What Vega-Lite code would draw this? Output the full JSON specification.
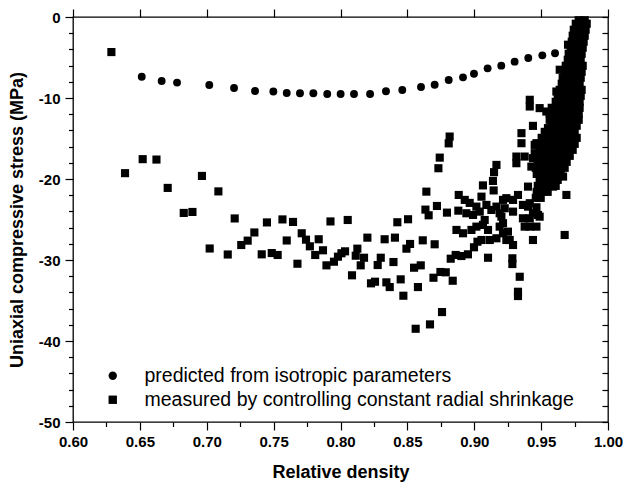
{
  "$schema": "https://vega.github.io/schema/vega-lite/v6.json",
  "width": 535,
  "height": 405,
  "autosize": {"type": "none"},
  "padding": {"left": 73, "top": 17, "right": 17, "bottom": 63},
  "background": "white",
  "config": {
    "view": {"stroke": "black", "strokeWidth": 1.3},
    "axis": {
      "domainColor": "black", "domainWidth": 1.3, "tickColor": "black", "tickWidth": 1.2,
      "labelFont": "Liberation Sans", "labelFontWeight": "bold", "labelFontSize": 15, "labelColor": "black",
      "titleFont": "Liberation Sans", "titleFontWeight": "bold", "titleFontSize": 18, "titleColor": "black",
      "grid": false, "labelOverlap": false, "labelFlush": false
    }
  },
  "datasets": {
    "pred": [
      {"x":0.6514,"y":-7.37},{"x":0.6663,"y":-7.90},{"x":0.6778,"y":-8.10},{"x":0.7019,"y":-8.40},{"x":0.7204,"y":-8.77},
      {"x":0.7361,"y":-9.14},{"x":0.7498,"y":-9.20},{"x":0.7598,"y":-9.38},{"x":0.7697,"y":-9.42},{"x":0.7797,"y":-9.42},
      {"x":0.7901,"y":-9.50},{"x":0.8001,"y":-9.50},{"x":0.8101,"y":-9.50},{"x":0.8221,"y":-9.50},{"x":0.8340,"y":-9.17},
      {"x":0.8462,"y":-9.01},{"x":0.8602,"y":-8.64},{"x":0.8704,"y":-8.36},{"x":0.8809,"y":-7.78},{"x":0.8916,"y":-7.45},
      {"x":0.8998,"y":-7.00},{"x":0.9100,"y":-6.34},{"x":0.9202,"y":-6.01},{"x":0.9302,"y":-5.51},{"x":0.9404,"y":-5.06},
      {"x":0.9509,"y":-4.73},{"x":0.9604,"y":-4.48},{"x":0.974,"y":-3.0},{"x":0.978,"y":-1.8},{"x":0.980,"y":-0.6}
    ],
    "meas": [
      {"x":0.6287,"y":-4.33},{"x":0.6389,"y":-19.28},{"x":0.6521,"y":-17.55},{"x":0.6624,"y":-17.60},{"x":0.6708,"y":-21.10},
      {"x":0.6828,"y":-24.19},{"x":0.6893,"y":-24.07},{"x":0.6964,"y":-19.62},{"x":0.7087,"y":-21.53},{"x":0.7022,"y":-28.58},
      {"x":0.7157,"y":-29.32},{"x":0.7209,"y":-24.87},{"x":0.7258,"y":-28.15},{"x":0.7306,"y":-27.61},{"x":0.7356,"y":-26.60},
      {"x":0.7411,"y":-29.30},{"x":0.7450,"y":-25.36},{"x":0.7486,"y":-29.14},{"x":0.7530,"y":-29.38},{"x":0.7566,"y":-24.99},
      {"x":0.7598,"y":-27.59},{"x":0.7645,"y":-25.30},{"x":0.7678,"y":-30.46},{"x":0.7710,"y":-26.70},{"x":0.7742,"y":-27.49},
      {"x":0.7771,"y":-28.31},{"x":0.7811,"y":-29.38},{"x":0.7837,"y":-27.44},{"x":0.7869,"y":-28.80},{"x":0.7925,"y":-25.24},
      {"x":0.8054,"y":-25.06},{"x":0.7895,"y":-30.66},{"x":0.7951,"y":-30.21},{"x":0.7981,"y":-29.59},{"x":0.8007,"y":-29.17},
      {"x":0.8034,"y":-28.93},{"x":0.8086,"y":-31.89},{"x":0.8126,"y":-28.60},{"x":0.8114,"y":-29.47},{"x":0.8151,"y":-30.66},
      {"x":0.8176,"y":-29.72},{"x":0.8201,"y":-27.24},{"x":0.8228,"y":-32.88},{"x":0.8258,"y":-32.68},{"x":0.8278,"y":-30.62},
      {"x":0.8301,"y":-29.72},{"x":0.8330,"y":-27.44},{"x":0.8343,"y":-32.76},{"x":0.8368,"y":-33.34},{"x":0.8396,"y":-30.25},
      {"x":0.8407,"y":-27.24},{"x":0.8425,"y":-25.34},{"x":0.8450,"y":-32.39},{"x":0.8470,"y":-34.41},{"x":0.8493,"y":-28.60},
      {"x":0.8505,"y":-24.97},{"x":0.8520,"y":-28.02},{"x":0.8550,"y":-30.95},{"x":0.8562,"y":-38.49},{"x":0.8579,"y":-33.34},
      {"x":0.8600,"y":-30.66},{"x":0.8615,"y":-27.57},{"x":0.8635,"y":-23.78},{"x":0.8642,"y":-21.56},{"x":0.8659,"y":-24.48},
      {"x":0.8669,"y":-37.95},{"x":0.8695,"y":-32.19},{"x":0.8704,"y":-28.06},{"x":0.8721,"y":-23.33},{"x":0.8732,"y":-18.67},
      {"x":0.8742,"y":-17.36},{"x":0.8747,"y":-31.48},{"x":0.8759,"y":-36.43},{"x":0.8787,"y":-31.52},{"x":0.8796,"y":-24.15},
      {"x":0.8809,"y":-15.60},{"x":0.8816,"y":-14.76},{"x":0.8824,"y":-29.84},{"x":0.8839,"y":-32.56},{"x":0.8861,"y":-29.38},
      {"x":0.8867,"y":-26.29},{"x":0.8881,"y":-23.91},{"x":0.8884,"y":-21.97},{"x":0.8904,"y":-29.51},{"x":0.8916,"y":-26.70},
      {"x":0.8929,"y":-22.58},{"x":0.8941,"y":-24.23},{"x":0.8953,"y":-29.30},{"x":0.8966,"y":-22.95},{"x":0.8979,"y":-26.29},
      {"x":0.8991,"y":-24.44},{"x":0.8998,"y":-28.43},{"x":0.9016,"y":-25.88},{"x":0.9024,"y":-27.74},{"x":0.9016,"y":-23.41},
      {"x":0.9054,"y":-22.18},{"x":0.9041,"y":-24.03},{"x":0.9065,"y":-25.67},{"x":0.9054,"y":-27.53},{"x":0.9065,"y":-20.79},
      {"x":0.9091,"y":-23.20},{"x":0.9078,"y":-25.06},{"x":0.9103,"y":-26.29},{"x":0.9103,"y":-29.72},{"x":0.9128,"y":-23.82},
      {"x":0.9116,"y":-27.53},{"x":0.9140,"y":-20.24},{"x":0.9148,"y":-19.16},{"x":0.9166,"y":-18.26},{"x":0.9145,"y":-21.41},
      {"x":0.9166,"y":-23.41},{"x":0.9166,"y":-27.32},{"x":0.9190,"y":-24.23},{"x":0.9190,"y":-25.88},{"x":0.9203,"y":-24.65},
      {"x":0.9215,"y":-22.58},{"x":0.9215,"y":-25.46},{"x":0.9215,"y":-26.70},{"x":0.9240,"y":-22.37},{"x":0.9228,"y":-23.61},
      {"x":0.9240,"y":-27.53},{"x":0.9252,"y":-26.50},{"x":0.9265,"y":-27.53},{"x":0.9290,"y":-28.15},{"x":0.9290,"y":-22.58},
      {"x":0.9290,"y":-24.03},{"x":0.9285,"y":-29.79},{"x":0.9285,"y":-30.50},{"x":0.9315,"y":-17.23},{"x":0.9315,"y":-18.05},
      {"x":0.9327,"y":-21.97},{"x":0.9340,"y":-32.07},{"x":0.9327,"y":-33.92},{"x":0.9327,"y":-34.45},{"x":0.9353,"y":-14.34},
      {"x":0.9353,"y":-15.58},{"x":0.9364,"y":-23.20},{"x":0.9364,"y":-24.85},{"x":0.9377,"y":-17.23},{"x":0.9377,"y":-25.88},
      {"x":0.9402,"y":-20.94},{"x":0.9402,"y":-23.41},{"x":0.9415,"y":-10.22},{"x":0.9415,"y":-11.05},{"x":0.9415,"y":-22.99},
      {"x":0.9415,"y":-24.85},{"x":0.9415,"y":-25.88},{"x":0.9427,"y":-18.47},{"x":0.9439,"y":-13.44},{"x":0.9439,"y":-17.43},
      {"x":0.9439,"y":-24.23},{"x":0.9439,"y":-27.53},{"x":0.9452,"y":-15.79},{"x":0.9452,"y":-16.81},{"x":0.9465,"y":-15.58},
      {"x":0.9465,"y":-23.49},{"x":0.9465,"y":-25.88},{"x":0.9477,"y":-24.44},{"x":0.9489,"y":-11.25},{"x":0.9489,"y":-16.40},
      {"x":0.9489,"y":-24.65},{"x":0.9539,"y":-11.67},{"x":0.9551,"y":-13.72},{"x":0.9551,"y":-20.11},{"x":0.9589,"y":-20.94},
      {"x":0.9614,"y":-9.20},{"x":0.9639,"y":-6.51},{"x":0.9664,"y":-19.70},{"x":0.9676,"y":-26.91},{"x":0.9689,"y":-21.97},
      {"x":0.9701,"y":-3.42},
      {"x":0.9781,"y":-0.4},{"x":0.9826,"y":-0.4},
      {"x":0.9759,"y":-0.83},{"x":0.9803,"y":-0.83},{"x":0.9841,"y":-0.83},
      {"x":0.9744,"y":-1.57},{"x":0.9788,"y":-1.57},{"x":0.9833,"y":-1.57},
      {"x":0.9736,"y":-2.31},{"x":0.9781,"y":-2.31},{"x":0.9826,"y":-2.31},
      {"x":0.9729,"y":-3.05},{"x":0.9773,"y":-3.05},{"x":0.9818,"y":-3.05},
      {"x":0.9721,"y":-3.79},{"x":0.9766,"y":-3.79},{"x":0.9811,"y":-3.79},
      {"x":0.9706,"y":-4.54},{"x":0.9751,"y":-4.54},{"x":0.9803,"y":-4.54},
      {"x":0.9699,"y":-5.28},{"x":0.9744,"y":-5.28},{"x":0.9796,"y":-5.28},
      {"x":0.9684,"y":-6.02},{"x":0.9729,"y":-6.02},{"x":0.9773,"y":-6.02},{"x":0.9811,"y":-6.02},
      {"x":0.9676,"y":-6.76},{"x":0.9721,"y":-6.76},{"x":0.9766,"y":-6.76},{"x":0.9803,"y":-6.76},
      {"x":0.9661,"y":-7.50},{"x":0.9706,"y":-7.50},{"x":0.9751,"y":-7.50},{"x":0.9796,"y":-7.50},
      {"x":0.9654,"y":-8.24},{"x":0.9699,"y":-8.24},{"x":0.9744,"y":-8.24},{"x":0.9788,"y":-8.24},
      {"x":0.9639,"y":-8.99},{"x":0.9684,"y":-8.99},{"x":0.9729,"y":-8.99},{"x":0.9773,"y":-8.99},{"x":0.9803,"y":-8.99},
      {"x":0.9624,"y":-9.73},{"x":0.9669,"y":-9.73},{"x":0.9714,"y":-9.73},{"x":0.9759,"y":-9.73},{"x":0.9796,"y":-9.73},
      {"x":0.9609,"y":-10.47},{"x":0.9654,"y":-10.47},{"x":0.9699,"y":-10.47},{"x":0.9744,"y":-10.47},{"x":0.9788,"y":-10.47},
      {"x":0.9579,"y":-11.21},{"x":0.9624,"y":-11.21},{"x":0.9669,"y":-11.21},{"x":0.9714,"y":-11.21},{"x":0.9759,"y":-11.21},{"x":0.9788,"y":-11.21},
      {"x":0.9564,"y":-11.95},{"x":0.9609,"y":-11.95},{"x":0.9654,"y":-11.95},{"x":0.9699,"y":-11.95},{"x":0.9744,"y":-11.95},{"x":0.9781,"y":-11.95},
      {"x":0.9564,"y":-12.69},{"x":0.9609,"y":-12.69},{"x":0.9654,"y":-12.69},{"x":0.9699,"y":-12.69},{"x":0.9744,"y":-12.69},{"x":0.9781,"y":-12.69},
      {"x":0.9579,"y":-13.43},{"x":0.9624,"y":-13.43},{"x":0.9669,"y":-13.43},{"x":0.9714,"y":-13.43},{"x":0.9766,"y":-13.43},
      {"x":0.9527,"y":-14.18},{"x":0.9572,"y":-14.18},{"x":0.9616,"y":-14.18},{"x":0.9661,"y":-14.18},{"x":0.9706,"y":-14.18},{"x":0.9751,"y":-14.18},
      {"x":0.9504,"y":-14.92},{"x":0.9549,"y":-14.92},{"x":0.9594,"y":-14.92},{"x":0.9639,"y":-14.92},{"x":0.9684,"y":-14.92},{"x":0.9729,"y":-14.92},{"x":0.9766,"y":-14.92},
      {"x":0.9489,"y":-15.66},{"x":0.9534,"y":-15.66},{"x":0.9579,"y":-15.66},{"x":0.9624,"y":-15.66},{"x":0.9669,"y":-15.66},{"x":0.9714,"y":-15.66},{"x":0.9751,"y":-15.66},
      {"x":0.9512,"y":-16.40},{"x":0.9557,"y":-16.40},{"x":0.9602,"y":-16.40},{"x":0.9646,"y":-16.40},{"x":0.9691,"y":-16.40},{"x":0.9736,"y":-16.40},
      {"x":0.9489,"y":-17.14},{"x":0.9534,"y":-17.14},{"x":0.9579,"y":-17.14},{"x":0.9624,"y":-17.14},{"x":0.9669,"y":-17.14},{"x":0.9714,"y":-17.14},
      {"x":0.9475,"y":-17.88},{"x":0.9519,"y":-17.88},{"x":0.9564,"y":-17.88},{"x":0.9609,"y":-17.88},{"x":0.9654,"y":-17.88},{"x":0.9691,"y":-17.88},
      {"x":0.9460,"y":-18.62},{"x":0.9504,"y":-18.62},{"x":0.9549,"y":-18.62},{"x":0.9594,"y":-18.62},{"x":0.9639,"y":-18.62},{"x":0.9676,"y":-18.62},
      {"x":0.9467,"y":-19.37},{"x":0.9512,"y":-19.37},{"x":0.9557,"y":-19.37},{"x":0.9602,"y":-19.37},{"x":0.9646,"y":-19.37},
      {"x":0.9489,"y":-20.11},{"x":0.9534,"y":-20.11},{"x":0.9579,"y":-20.11},{"x":0.9624,"y":-20.11},
      {"x":0.9475,"y":-20.85},{"x":0.9519,"y":-20.85},{"x":0.9564,"y":-20.85},{"x":0.9609,"y":-20.85},
      {"x":0.9467,"y":-21.59},{"x":0.9504,"y":-21.59},{"x":0.9549,"y":-21.59},
      {"x":0.9460,"y":-22.33},{"x":0.9497,"y":-22.33}
    ]
  },
  "layer": [
    {
      "data": {"name": "pred"},
      "mark": {"type": "point", "filled": true, "opacity": 1, "color": "black", "size": 62, "strokeWidth": 0},
      "encoding": {
        "x": {
          "field": "x", "type": "quantitative",
          "scale": {"domain": [0.6, 1.0], "nice": false, "zero": false},
          "axis": {
            "orient": "bottom", "title": "Relative density", "titlePadding": 14, "domain": false,
            "values": [0.6,0.625,0.65,0.675,0.7,0.725,0.75,0.775,0.8,0.825,0.85,0.875,0.9,0.925,0.95,0.975,1.0],
            "labelExpr": "abs(datum.value*20-round(datum.value*20))<0.001 ? format(datum.value,'.2f') : ''",
            "tickSize": {"condition": {"test": "abs(datum.value*20-round(datum.value*20))<0.001", "value": 8}, "value": 4.5},
            "labelPadding": 4
          }
        },
        "y": {
          "field": "y", "type": "quantitative",
          "scale": {"domain": [-50, 0], "nice": false, "zero": false},
          "axis": {
            "orient": "left", "title": "Uniaxial compressive stress (MPa)", "titlePadding": 12, "domain": false,
            "values": [-50,-48,-46,-44,-42,-40,-38,-36,-34,-32,-30,-28,-26,-24,-22,-20,-18,-16,-14,-12,-10,-8,-6,-4,-2,0],
            "labelExpr": "datum.value % 10 == 0 ? '' + datum.value : ''",
            "tickSize": {"condition": {"test": "datum.value % 10 == 0", "value": 8}, "value": 4.5},
            "labelPadding": 5
          }
        },
        "shape": {
          "datum": "predicted from isotropic parameters",
          "scale": {
            "domain": ["predicted from isotropic parameters", "measured by controlling constant radial shrinkage"],
            "range": ["circle", "square"]
          },
          "legend": {
            "orient": "none", "legendX": 30, "legendY": 349, "title": null,
            "labelFont": "Liberation Sans", "labelFontSize": 19.5, "labelColor": "black", "labelLimit": 0,
            "labelOffset": 22, "rowPadding": 3, "padding": 0,
            "symbolSize": 70, "symbolFillColor": "black", "symbolStrokeWidth": 0, "symbolOpacity": 1
          }
        }
      }
    },
    {
      "data": {"name": "meas"},
      "mark": {"type": "point", "filled": true, "opacity": 1, "color": "black", "size": 66, "strokeWidth": 0},
      "encoding": {
        "x": {
          "field": "x", "type": "quantitative",
          "axis": {"orient": "top", "title": null, "labels": false, "domain": false, "tickSize": 8, "tickCount": 8, "zindex": 1}
        },
        "y": {
          "field": "y", "type": "quantitative",
          "axis": {"orient": "right", "title": null, "labels": false, "domain": false, "tickSize": -6, "tickCount": 25, "zindex": 1}
        },
        "shape": {"datum": "measured by controlling constant radial shrinkage"}
      }
    }
  ],
  "resolve": {"axis": {"x": "independent", "y": "independent"}}
}
